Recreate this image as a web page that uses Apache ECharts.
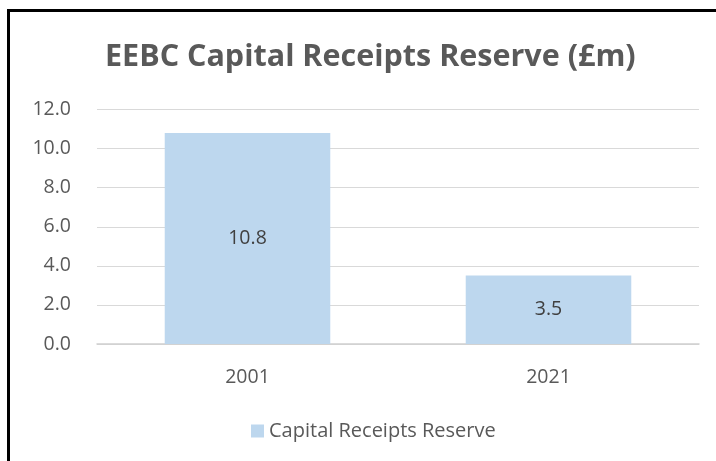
<!DOCTYPE html>
<html><head><meta charset="utf-8">
<script src="https://cdn.jsdelivr.net/npm/echarts@6/dist/echarts.min.js"></script>
<style>
html,body{margin:0;padding:0;background:#fff;}
#c{width:716px;height:461px;}
#frame{position:absolute;left:7px;top:9px;right:0;bottom:0;border-top:3px solid #000;border-left:3px solid #000;pointer-events:none;}
</style></head>
<body>
<div id="c"></div>
<div id="frame"></div>
<script>
var titleText = 'EEBC Capital Receipts Reserve (£m)';
var categories = ['2001', '2021'];
var seriesName = 'Capital Receipts Reserve';
var values = [10.8, 3.5];
var yTicks = [0, 2, 4, 6, 8, 10, 12];

var chart = echarts.init(document.getElementById('c'), null, {renderer: 'canvas'});
var font = '"Open Sans", sans-serif';
chart.setOption({
  backgroundColor: '#fff',
  animation: false,
  title: {
    text: titleText, left: 100, top: 37,
    textStyle: {fontFamily: font, fontWeight: 'bold', fontSize: 30.5, color: '#595959'}
  },
  legend: {
    data: [seriesName], bottom: 15, left: 246,
    icon: 'rect', itemWidth: 13, itemHeight: 13, itemGap: 6,
    textStyle: {fontFamily: font, fontSize: 20, color: '#595959'}
  },
  grid: {left: 97, right: 17, top: 109.5, bottom: 117, containLabel: false},
  xAxis: {
    type: 'category', data: categories,
    axisLine: {lineStyle: {color: '#d0d0d0', width: 1.5}},
    axisTick: {show: false},
    axisLabel: {fontFamily: font, fontSize: 19.5, color: '#595959', margin: 23}
  },
  yAxis: {
    type: 'value', min: yTicks[0], max: yTicks[yTicks.length - 1], interval: 2,
    axisLine: {show: false}, axisTick: {show: false},
    splitLine: {lineStyle: {color: '#d9d9d9', width: 1}},
    axisLabel: {fontFamily: font, fontSize: 19.5, color: '#595959', margin: 26,
      formatter: function (v) { return v.toFixed(1); }}
  },
  series: [{
    name: seriesName, type: 'bar', data: values, barWidth: '55%',
    itemStyle: {color: '#bdd7ee'},
    label: {show: true, position: 'inside', fontFamily: font, fontSize: 19.5, color: '#404040',
      formatter: function (p) { return p.value.toFixed(1); }}
  }]
});
</script>
</body></html>
